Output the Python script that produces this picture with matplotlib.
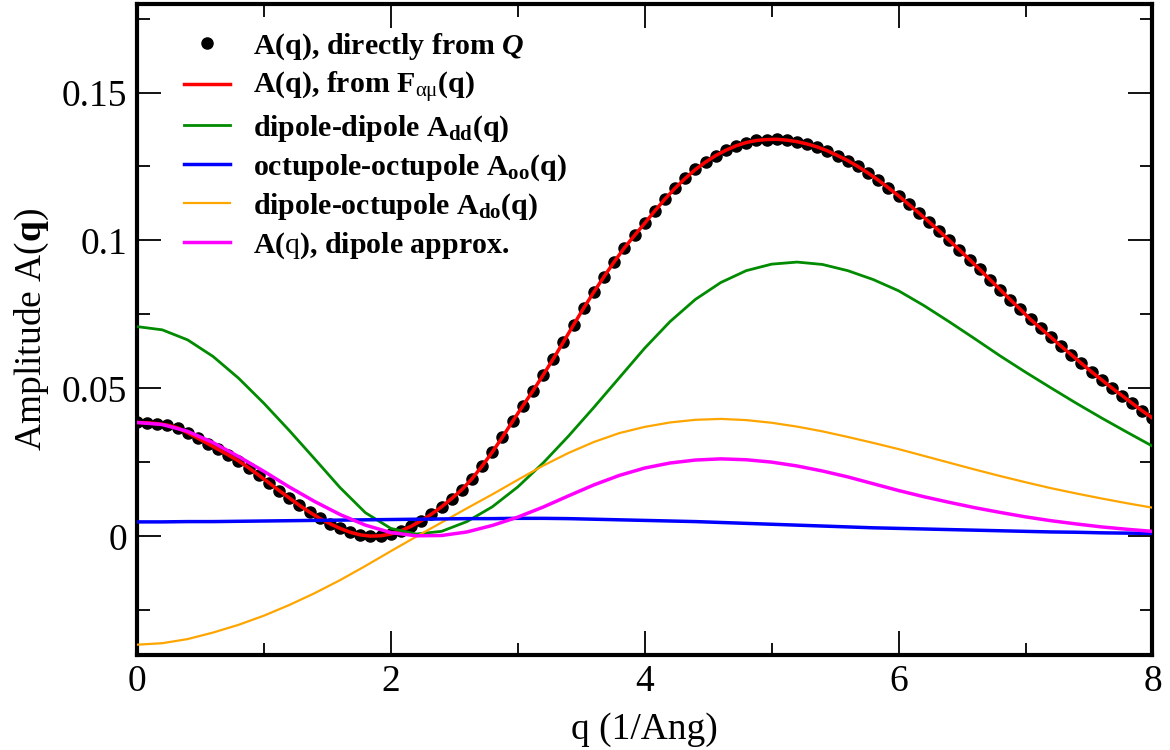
import numpy as np
import matplotlib
matplotlib.use('Agg')
import matplotlib.pyplot as plt

plt.rcParams['font.family'] = ['Liberation Serif', 'DejaVu Serif']
plt.rcParams['mathtext.fontset'] = 'custom'
plt.rcParams['mathtext.rm'] = 'Liberation Serif'
plt.rcParams['mathtext.bf'] = 'Liberation Serif:bold'
plt.rcParams['mathtext.it'] = 'Liberation Serif:italic:bold'

# total amplitude, sampled every 0.08 1/Ang (dots + red line)
q_dots = np.round(np.arange(101) * 0.08, 2)
A_total = [0.0385, 0.0384, 0.0381, 0.0376, 0.0367, 0.0350, 0.0332, 0.0313, 0.0294, 0.0275,
           0.0255, 0.0232, 0.0207, 0.0181, 0.0155, 0.0130, 0.0105, 0.0082, 0.0061, 0.0043,
           0.0027, 0.0014, 0.0005, 0.0001, 0.0002, 0.0008, 0.0019, 0.0034, 0.0053, 0.0075,
           0.0100, 0.0128, 0.0158, 0.0195, 0.0238, 0.0285, 0.0336, 0.0389, 0.0441, 0.0492,
           0.0545, 0.0600, 0.0657, 0.0715, 0.0772, 0.0826, 0.0878, 0.0928, 0.0975, 0.1017,
           0.1058, 0.1100, 0.1140, 0.1177, 0.1210, 0.1240, 0.1265, 0.1287, 0.1305, 0.1320,
           0.1331, 0.1338, 0.1341, 0.1342, 0.1339, 0.1334, 0.1326, 0.1316, 0.1303, 0.1287,
           0.1270, 0.1250, 0.1228, 0.1204, 0.1178, 0.1151, 0.1122, 0.1093, 0.1063, 0.1032,
           0.1000, 0.0968, 0.0935, 0.0902, 0.0868, 0.0834, 0.0800, 0.0767, 0.0733, 0.0703,
           0.0673, 0.0643, 0.0614, 0.0585, 0.0556, 0.0529, 0.0502, 0.0476, 0.0450, 0.0424,
           0.0400]

# components, sampled every 0.2 1/Ang
q_comp = np.round(np.arange(41) * 0.2, 1)
A_dd = [0.0709, 0.0698, 0.0664, 0.0608, 0.0535, 0.0450, 0.0358, 0.0262, 0.0165, 0.0080,
        0.0027, 0.0008, 0.0017, 0.0050, 0.0100, 0.0167, 0.0248, 0.0339, 0.0436, 0.0536,
        0.0636, 0.0726, 0.0801, 0.0858, 0.0898, 0.0920, 0.0927, 0.0919, 0.0898, 0.0868,
        0.0830, 0.0780, 0.0725, 0.0668, 0.0610, 0.0555, 0.0502, 0.0450, 0.0400, 0.0352,
        0.0305]
A_oo = [0.0049, 0.0049, 0.0050, 0.0050, 0.0051, 0.0052, 0.0053, 0.0054, 0.0055, 0.0056,
        0.0057, 0.0058, 0.0059, 0.0060, 0.0060, 0.0061, 0.0061, 0.0060, 0.0058, 0.0056,
        0.0054, 0.0052, 0.0050, 0.0047, 0.0044, 0.0041, 0.0038, 0.0035, 0.0032, 0.0029,
        0.0027, 0.0025, 0.0023, 0.0021, 0.0019, 0.0017, 0.0015, 0.0014, 0.0012, 0.0011,
        0.0010]
A_do = [-0.0366, -0.0361, -0.0347, -0.0325, -0.0299, -0.0268, -0.0232, -0.0192, -0.0148, -0.0100,
        -0.0050, -0.0001, 0.0047, 0.0095, 0.0142, 0.0191, 0.0239, 0.0282, 0.0319, 0.0349,
        0.0370, 0.0385, 0.0394, 0.0397, 0.0393, 0.0384, 0.0371, 0.0355, 0.0336, 0.0316,
        0.0295, 0.0272, 0.0249, 0.0226, 0.0204, 0.0183, 0.0163, 0.0145, 0.0128, 0.0112,
        0.0097]
A_dip = [0.0385, 0.0378, 0.0355, 0.0317, 0.0270, 0.0220, 0.0167, 0.0118, 0.0074, 0.0038,
         0.0013, 0.0002, 0.0003, 0.0015, 0.0037, 0.0065, 0.0099, 0.0137, 0.0174, 0.0206,
         0.0231, 0.0248, 0.0258, 0.0262, 0.0259, 0.0251, 0.0238, 0.0221, 0.0201, 0.0178,
         0.0155, 0.0134, 0.0115, 0.0097, 0.0081, 0.0066, 0.0053, 0.0042, 0.0032, 0.0024,
         0.0017]

labels = [r'A(q), directly from $Q$',
          r'A(q), from F$_{\mathrm{\alpha\mu}}$(q)',
          r'dipole-dipole A$_{\mathbf{dd}}$(q)',
          r'octupole-octupole A$_{\mathbf{oo}}$(q)',
          r'dipole-octupole A$_{\mathbf{do}}$(q)',
          r'A($\mathrm{q}$), dipole approx.']


def main():
    fig = plt.figure(figsize=(11.7, 7.5), dpi=100)
    ax = fig.add_axes([0.117, 0.127, 0.868, 0.868])

    ax.plot(q_dots, A_total, 'o', color='black', ms=8, label=labels[0], zorder=2)
    ax.plot(q_dots, A_total, color='red', lw=2.5, label=labels[1], zorder=3)
    ax.plot(q_comp, A_dd, color='#008b00', lw=2.0, label=labels[2], zorder=3)
    ax.plot(q_comp, A_oo, color='blue', lw=2.5, label=labels[3], zorder=4)
    ax.plot(q_comp, A_do, color='orange', lw=1.6, label=labels[4], zorder=3)
    ax.plot(q_comp, A_dip, color='magenta', lw=2.5, label=labels[5], zorder=4)

    ax.set_xlim(0, 8)
    ax.set_ylim(-0.04, 0.18)
    ax.set_xticks([0, 2, 4, 6, 8])
    ax.set_xticks([1, 3, 5, 7], minor=True)
    ax.set_yticks([0, 0.05, 0.1, 0.15])
    ax.set_yticklabels(['0', '0.05', '0.1', '0.15'])
    ax.set_yticks([-0.025, 0.025, 0.075, 0.125, 0.175], minor=True)
    ax.tick_params(which='both', direction='in', top=True, right=True, labelsize=27, width=1.3)
    ax.tick_params(which='major', length=17, pad=7)
    ax.tick_params(which='minor', length=9)
    for s in ax.spines.values():
        s.set_linewidth(3)

    ax.set_xlabel('q (1/Ang)', fontsize=27, labelpad=10)
    ax.set_ylabel(r'Amplitude A($\mathbf{q}$)', fontsize=27, labelpad=8)

    ax.legend(loc='upper left', frameon=False, prop={'weight': 'bold', 'size': 21.5},
              handlelength=1.55, handletextpad=0.75, labelspacing=0.28,
              borderaxespad=0.3, bbox_to_anchor=(0.026, 0.99))

    fig.savefig('out.png', dpi=100)


if __name__ == '__main__':
    main()
